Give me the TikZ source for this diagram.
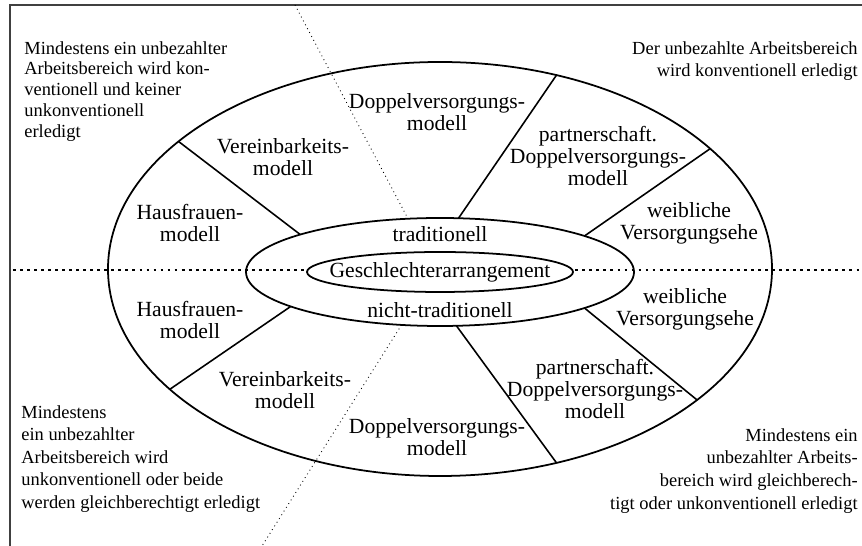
\documentclass[tikz,border=0pt]{standalone}
\usepackage{fontspec}
\setmainfont{Liberation Serif}
\usetikzlibrary{shapes.geometric}

\begin{document}
\begin{tikzpicture}[
    ring/.style={draw, ellipse, line width=1pt, inner sep=0pt, outer sep=0pt},
    spoke/.style={line width=0.9pt},
    axis/.style={line width=1.4pt, dash pattern=on 1.6pt off 2.4pt},
    slant/.style={line width=0.5pt, dotted},
    field/.style={align=center, inner sep=0pt, font=\fontsize{12.3}{12.5}\selectfont},
    corner/.style={inner sep=0pt, font=\fontsize{10.5}{12}\selectfont}]
    \useasboundingbox (0,0) rectangle (17.24,10.92);
    % frame (top and left only)
    \coordinate (TL) at (0.2,10.82);
    \draw [line width=0.8pt, black!75] (0.2,0) -- (TL) -- (17.24,10.82);
    % horizontal dotted axis
    \coordinate (axL) at (0.26,5.52);
    \coordinate (axR) at (17.24,5.52);
    \draw [axis] (axL) -- (axR);
    % the three rings
    \node [ring, minimum width=13.28cm, minimum height=8.28cm] (outer) at (8.8,5.54) {};
    \node [ring, minimum width=7.76cm, minimum height=2.16cm] (middle) at (8.8,5.48) {};
    \node [ring, fill=white, minimum width=5.32cm, minimum height=0.8cm] (inner) at (8.8,5.48) {};
    % spokes
    \foreach \a/\b in {154.3/165.9, 59.6/71.6, 24.3/14.9, 204.9/193.9, 301.4/287.2, 333.3/346.8}
        \draw [spoke] (outer.\a) -- (middle.\b);
    % slanted dotted border
    \coordinate (sTop) at (5.9,10.82);
    \coordinate (sBot) at (5.24,0);
    \draw [slant] (sTop) -- (middle.121.4);
    \draw [slant] (middle.234.9) -- (sBot);
    % ring labels
    \node [field] (gesch) at (inner) {Geschlechterarrangement};
    \node [field] (trad) at (8.8,6.24) {traditionell};
    \node [field] (ntrad) at (8.8,4.72) {nicht-traditionell};
    % upper half
    \node [field] (dvU) at (8.74,8.68) {Doppelversorgungs-\\modell};
    \node [field] (vbU) at (5.66,7.78) {Vereinbarkeits-\\modell};
    \node [field] (hfU) at (3.8,6.46) {Hausfrauen-\\modell};
    \node [field] (pdU) at (11.96,7.8) {partnerschaft.\\Doppelversorgungs-\\modell};
    \node [field] (wvU) at (13.78,6.46) {weibliche\\Versorgungsehe};
    % lower half
    \node [field] (hfL) at (3.8,4.52) {Hausfrauen-\\modell};
    \node [field] (vbL) at (5.7,3.12) {Vereinbarkeits-\\modell};
    \node [field] (dvL) at (8.74,2.18) {Doppelversorgungs-\\modell};
    \node [field] (pdL) at (11.9,3.14) {partnerschaft.\\Doppelversorgungs-\\modell};
    \node [field] (wvL) at (13.7,4.74) {weibliche\\Versorgungsehe};
    % corner texts
    \node [corner, anchor=north west, align=left, font=\fontsize{10.5}{11.8}\selectfont] (cTL) at (0.48,10.1)
        {Mindestens ein unbezahlter\\Arbeitsbereich wird kon-\\ventionell und keiner\\unkonventionell\\erledigt};
    \node [corner, anchor=north east, align=right, font=\fontsize{10.5}{12.8}\selectfont] (cTR) at (17.16,10.1)
        {Der unbezahlte Arbeitsbereich\\wird konventionell erledigt};
    \node [corner, anchor=north west, align=left, font=\fontsize{10.5}{12.8}\selectfont] (cBL) at (0.42,2.82)
        {Mindestens\\ein unbezahlter\\Arbeitsbereich wird\\unkonventionell oder beide\\werden gleichberechtigt erledigt};
    \node [corner, anchor=north east, align=right, font=\fontsize{10.5}{13}\selectfont] (cBR) at (17.16,2.36)
        {Mindestens ein\\unbezahlter Arbeits-\\bereich wird gleichberech-\\tigt oder unkonventionell erledigt};
\end{tikzpicture}
\end{document}
